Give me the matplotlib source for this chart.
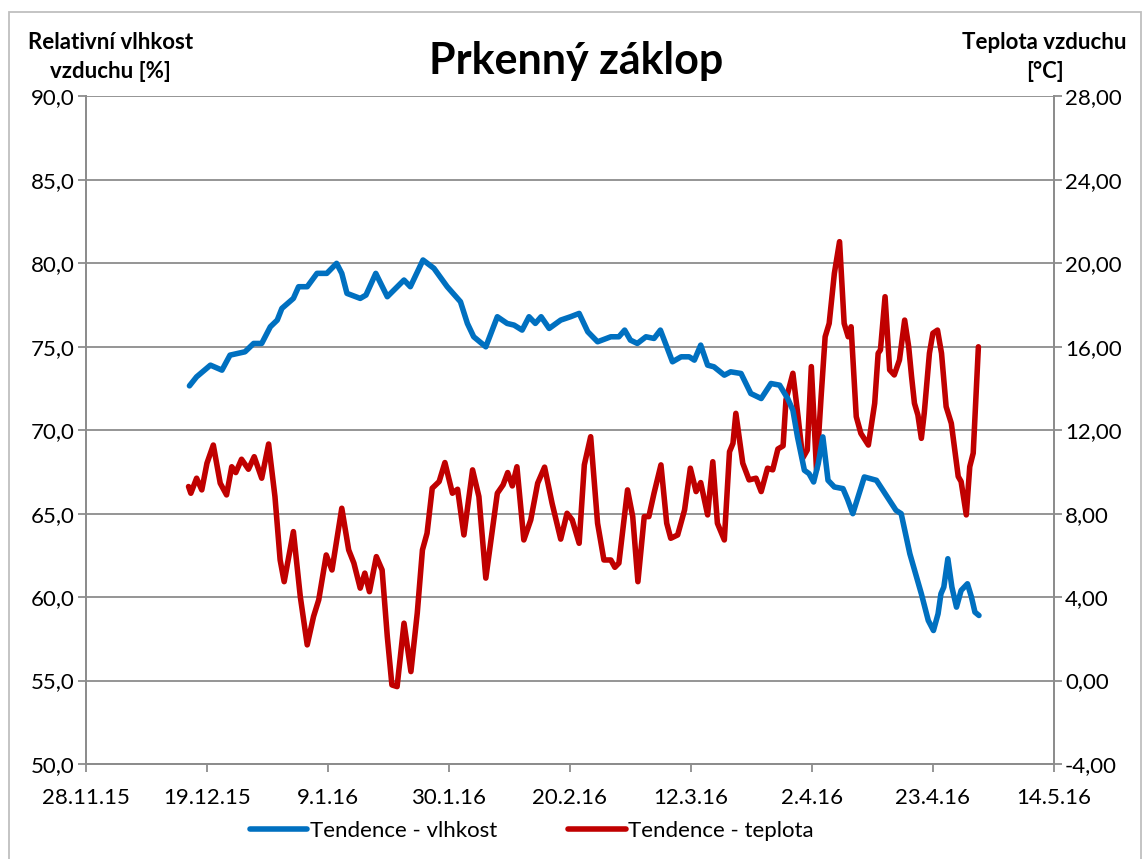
import matplotlib
matplotlib.use("Agg")
import matplotlib.pyplot as plt
import matplotlib.dates as mdates
from matplotlib.patches import Rectangle
from matplotlib.ticker import FuncFormatter
from datetime import datetime, timedelta

plt.rcParams['font.family'] = ['Lato', 'DejaVu Sans']

# data: day offsets from 28.11.2015 and readings
start = datetime(2015, 11, 28)

rh_days = [17.96, 19.2, 21.6, 23.6, 25.0, 27.6, 29.1, 30.5, 32.0, 33.2, 34.0, 36.0, 36.9, 38.4,
           40.1, 41.8, 43.5, 44.4, 45.3, 47.6, 48.6, 50.3, 52.3, 55.2, 56.3, 58.5, 60.4, 62.7,
           65.0, 66.2, 67.3, 69.4, 71.4, 73.1, 74.3, 75.7, 76.9, 78.0, 79.0, 80.4, 82.4, 84.1,
           85.6, 87.1, 88.8, 91.1, 92.5, 93.5, 94.5, 95.7, 97.2, 98.6, 99.7, 100.7, 101.8, 103.3,
           104.7, 105.6, 106.7, 107.9, 109.0, 110.8, 111.9, 113.7, 115.4, 117.2, 118.9, 120.4,
           121.8, 122.7, 123.5, 124.7, 125.5, 126.3, 127.1, 127.9, 128.8, 129.9, 131.4, 132.2,
           133.1, 135.1, 137.2, 138.9, 140.6, 141.5, 143.0, 145.0, 146.2, 147.1, 147.9, 148.4,
           148.9, 149.6, 150.3, 151.1, 151.9, 153.0, 153.7, 154.3, 155.0]
rh = [72.66, 73.2, 73.9, 73.6, 74.5, 74.7, 75.2, 75.2, 76.2, 76.6, 77.3, 77.9, 78.6, 78.6,
      79.4, 79.4, 80.0, 79.4, 78.2, 77.9, 78.1, 79.4, 78.0, 79.0, 78.6, 80.2, 79.7, 78.6,
      77.7, 76.4, 75.6, 75.0, 76.8, 76.4, 76.3, 76.0, 76.8, 76.4, 76.8, 76.1, 76.6, 76.8,
      77.0, 75.9, 75.3, 75.6, 75.6, 76.0, 75.4, 75.2, 75.6, 75.5, 76.0, 75.1, 74.1, 74.4,
      74.4, 74.2, 75.1, 73.9, 73.8, 73.3, 73.5, 73.4, 72.2, 71.9, 72.8, 72.7,
      71.9, 71.2, 69.6, 67.6, 67.4, 66.9, 68.0, 69.6, 67.0, 66.6, 66.5, 65.85,
      65.0, 67.2, 67.0, 66.1, 65.2, 65.0, 62.6, 60.2, 58.6, 58.0, 59.0, 60.2,
      60.6, 62.3, 60.6, 59.4, 60.4, 60.8, 60.0, 59.1, 58.9]

t_days = [17.8, 18.2, 19.2, 20.1, 21.0, 22.1, 23.3, 24.4, 25.3, 26.0, 27.0, 28.2, 29.2, 30.5,
          31.7, 32.8, 33.7, 34.4, 36.0, 37.2, 38.4, 39.5, 40.4, 41.7, 42.7, 44.4, 45.6, 46.5,
          47.6, 48.4, 49.2, 50.4, 51.4, 52.3, 53.1, 54.0, 55.2, 56.4, 57.5, 58.4, 59.2, 60.1,
          61.3, 62.3, 63.6, 64.5, 65.6, 67.1, 68.2, 69.4, 71.4, 72.4, 73.2, 74.0, 74.8, 76.0,
          77.2, 78.4, 79.6, 80.9, 82.4, 83.5, 84.4, 85.6, 86.5, 87.6, 88.8, 89.9, 91.1, 91.8,
          92.5, 94.0, 94.9, 95.8, 96.9, 97.7, 98.6, 99.8, 100.8, 101.5, 102.7, 103.9, 104.9,
          105.9, 106.7, 107.9, 108.8, 109.6, 110.8, 111.7, 112.3, 112.8, 114.0, 115.1, 116.3,
          117.2, 118.3, 119.2, 120.1, 121.0, 121.5, 122.7, 123.6, 124.4, 125.2, 125.9, 126.8,
          127.6, 128.3, 129.0, 129.9, 130.8, 131.6, 132.3, 132.8, 133.7, 134.5, 135.8, 136.9,
          137.5, 137.9, 138.7, 139.5, 140.3, 141.2, 142.1, 142.8, 143.3, 143.8, 144.4, 145.0,
          145.5, 146.4, 147.0, 147.8, 148.5, 149.3, 150.2, 151.4, 151.9, 152.8, 153.4, 154.0,
          154.9]
temp = [9.30, 8.98, 9.70, 9.14, 10.42, 11.29, 9.46, 8.90, 10.25, 9.97, 10.61, 10.13, 10.73, 9.70,
        11.34, 8.82, 5.78, 4.74, 7.14, 4.02, 1.71, 3.07, 3.87, 6.02, 5.30, 8.26, 6.26, 5.63,
        4.43, 5.15, 4.26, 5.94, 5.30, 2.11, -0.21, -0.29, 2.75, 0.43, 3.23, 6.26, 7.06, 9.22,
        9.54, 10.45, 8.98, 9.17, 6.98, 10.10, 8.82, 4.91, 8.98, 9.38, 9.97, 9.33, 10.25, 6.74,
        7.70, 9.46, 10.23, 8.50, 6.78, 8.02, 7.70, 6.58, 10.34, 11.69, 7.54, 5.78, 5.78, 5.43,
        5.63, 9.14, 7.86, 4.74, 7.86, 7.86, 8.98, 10.34, 7.54, 6.82, 6.98, 8.18, 10.18,
        9.06, 9.49, 7.94, 10.49, 7.54, 6.74, 10.97, 11.37, 12.81, 10.42, 9.62, 9.70,
        9.06, 10.18, 10.10, 11.10, 11.25, 13.45, 14.73, 12.65, 10.66, 11.05, 15.05, 10.10,
        13.61, 16.48, 17.12, 19.52, 21.04, 17.12, 16.48, 16.96, 12.65, 11.85, 11.29, 13.29,
        15.69, 15.85, 18.40, 14.89, 14.65, 15.37, 17.28, 16.0, 14.57, 13.29, 12.73, 11.61,
        12.81, 15.69, 16.65, 16.80, 15.69, 13.13, 12.33, 9.78, 9.54, 7.94, 10.25, 10.90,
        16.0]

rh_dates = [start + timedelta(days=d) for d in rh_days]
t_dates = [start + timedelta(days=d) for d in t_days]

BLUE = '#0070C0'
RED = '#C00000'
GRID = '#8C8C8C'
FS = 16

fig = plt.figure(figsize=(11.48, 8.59), dpi=100)
ax = fig.add_axes([0.0749, 0.1106, 0.8431, 0.7771])
ax2 = ax.twinx()

ax.set_zorder(ax2.get_zorder() + 1)
ax.patch.set_visible(False)

l2, = ax2.plot(t_dates, temp, color=RED, lw=4, solid_capstyle='round', solid_joinstyle='round',
               label='Tendence - teplota')
l1, = ax.plot(rh_dates, rh, color=BLUE, lw=4, solid_capstyle='round', solid_joinstyle='round',
              label='Tendence - vlhkost')

ax.set_ylim(50, 90)
ax.set_yticks(range(50, 91, 5))
ax.yaxis.set_major_formatter(FuncFormatter(lambda v, p: f"{v:.1f}".replace('.', ',')))
ax2.set_ylim(-4, 28)
ax2.set_yticks(range(-4, 29, 4))
ax2.yaxis.set_major_formatter(FuncFormatter(lambda v, p: f"{v:.2f}".replace('.', ',')))

xticks = [start + timedelta(days=21 * k) for k in range(9)]
ax.set_xlim(xticks[0], xticks[-1])
ax.set_xticks(xticks)
ax.xaxis.set_major_formatter(FuncFormatter(
    lambda v, p: (lambda d: f"{d.day}.{d.month}.{d.strftime('%y')}")(mdates.num2date(v))))

# gridlines on the temperature axis (they coincide with humidity grid)
ax2.grid(axis='y', color=GRID, lw=1.3)
ax2.set_axisbelow(True)

for a in (ax, ax2):
    for s in a.spines.values():
        s.set_color(GRID)
        s.set_linewidth(1.3)
    a.spines['top'].set_visible(False)
    a.tick_params(colors=GRID, labelcolor='black', labelsize=FS, length=6, width=1.3)

ax.tick_params(axis='x', pad=11)
ax.tick_params(axis='y', pad=2)
ax2.tick_params(axis='y', pad=2)

fig.text(0.502, 0.929, 'Prkenný záklop', ha='center', va='center', fontsize=31, fontweight='bold')
fig.text(0.096, 0.934, 'Relativní vlhkost\nvzduchu [%]', ha='center', va='center', fontsize=FS,
         fontweight='bold', linespacing=1.45)
fig.text(0.910, 0.934, 'Teplota vzduchu\n[°C]', ha='center', va='center', fontsize=FS,
         fontweight='bold', linespacing=1.45)

fig.legend(handles=[l1, l2], loc='center', bbox_to_anchor=(0.463, 0.033), ncol=2, frameon=False,
           fontsize=FS, handlelength=2.6, columnspacing=3.2, handletextpad=0.1)

fig.patches.append(Rectangle((0.008, -0.01), 0.986, 0.996, transform=fig.transFigure, fill=False,
                             edgecolor='#BFBFBF', lw=1.3))

fig.savefig('out.png', dpi=100)
